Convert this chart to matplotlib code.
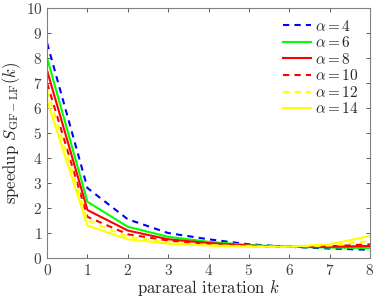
import matplotlib
matplotlib.use("Agg")
import matplotlib.pyplot as plt

plt.rcParams['font.family'] = 'serif'
plt.rcParams['font.serif'] = ['cmr10']
plt.rcParams['mathtext.fontset'] = 'cm'
plt.rcParams['axes.formatter.use_mathtext'] = True

k = [0, 1, 2, 3, 4, 5, 6, 7, 8]
alphas = [4, 6, 8, 10, 12, 14]
speedup_a4 = [8.6, 2.8, 1.55, 1.0, 0.75, 0.55, 0.45, 0.38, 0.33]
speedup_a6 = [8.0, 2.25, 1.25, 0.85, 0.65, 0.52, 0.45, 0.42, 0.40]
speedup_a8 = [7.5, 1.92, 1.1, 0.75, 0.6, 0.5, 0.45, 0.45, 0.48]
speedup_a10 = [7.0, 1.65, 0.95, 0.7, 0.55, 0.48, 0.45, 0.47, 0.55]
speedup_a12 = [6.7, 1.5, 0.85, 0.62, 0.52, 0.47, 0.45, 0.5, 0.68]
speedup_a14 = [6.3, 1.3, 0.75, 0.58, 0.5, 0.46, 0.45, 0.55, 0.88]

series = [speedup_a4, speedup_a6, speedup_a8, speedup_a10, speedup_a12, speedup_a14]
colors = ['#0000ff', '#00ff00', '#ff0000', '#ff0000', '#ffff00', '#ffff00']
styles = [(0, (3, 2.5)), '-', '-', (0, (3, 2.5)), (0, (3, 2.5)), '-']

fig = plt.figure(figsize=(3.74, 2.99), dpi=100)
ax = fig.add_axes([0.126, 0.137, 0.863, 0.836])

for a, y, c, ls in zip(alphas, series, colors, styles):
    ax.plot(k, y, color=c, linestyle=ls, linewidth=1.5, label=r'$\alpha = %d$' % a)

ax.set_xlim(0, 8)
ax.set_ylim(0, 10)
ax.set_xticks(range(0, 9))
ax.set_yticks(range(0, 11))
ax.tick_params(direction='in', top=True, right=True, labelsize=11, colors='#404040',
               length=3, width=0.6)
for s in ax.spines.values():
    s.set_color('#808080')
    s.set_linewidth(0.8)

ax.set_xlabel(r'parareal iteration $k$', fontsize=12, color='#262626', labelpad=0)
ax.set_ylabel(r'speedup $S_{\mathrm{GF-LF}}(k)$', fontsize=12, color='#262626', labelpad=2)

leg = ax.legend(loc='upper right', frameon=False, fontsize=11, handlelength=1.8,
                handletextpad=0.3, labelspacing=0.1, borderaxespad=0.3)
for t in leg.get_texts():
    t.set_color('#262626')

fig.savefig('out.png', dpi=100)
